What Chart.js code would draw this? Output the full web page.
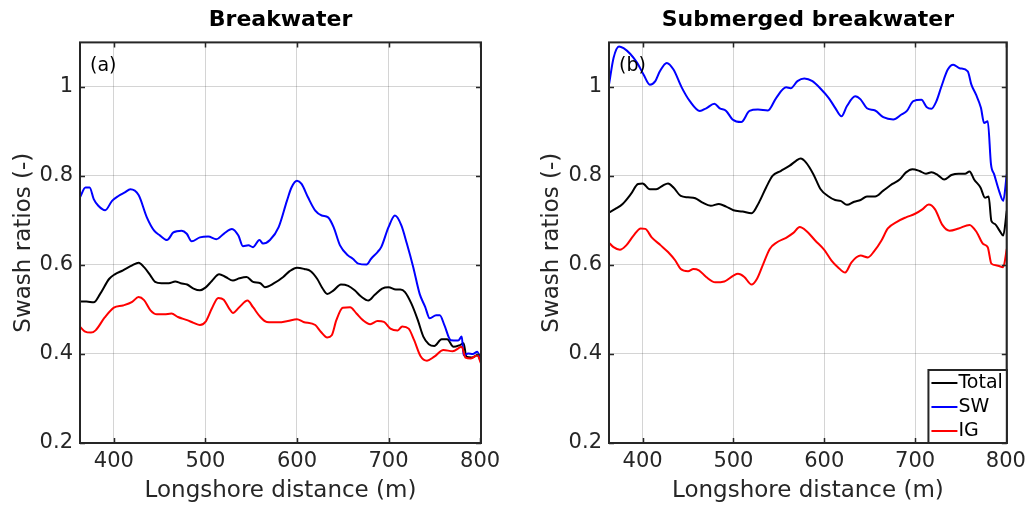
<!DOCTYPE html>
<html>
<head>
<meta charset="utf-8">
<script src="https://cdn.jsdelivr.net/npm/chart.js@4.4.1/dist/chart.umd.min.js"></script>
<style>
html, body { margin: 0; padding: 0; background: #fff; }
#wrap { position: relative; width: 1032px; height: 506px; }
canvas { position: absolute; top: 0; }
</style>
</head>
<body>
<div id="wrap">
  <canvas id="left" width="516" height="506" style="left:0"></canvas>
  <canvas id="right" width="516" height="506" style="left:516px"></canvas>
</div>
<script>
// [longshore distance (m), swash ratio]
const bwTotal = [[363,0.518],[370,0.518],[378,0.516],[385,0.535],[395,0.569],[401,0.579],[410,0.588],[420,0.599],[427,0.605],[433,0.595],[440,0.576],[445,0.562],[452,0.559],[460,0.559],[467,0.563],[473,0.559],[480,0.556],[487,0.547],[494,0.543],[500,0.549],[507,0.564],[515,0.579],[522,0.573],[530,0.565],[537,0.570],[545,0.573],[552,0.562],[560,0.559],[565,0.550],[575,0.559],[585,0.573],[592,0.586],[600,0.594],[608,0.591],[615,0.586],[622,0.569],[628,0.547],[633,0.535],[640,0.543],[648,0.556],[656,0.553],[663,0.543],[670,0.529],[678,0.520],[685,0.533],[693,0.547],[700,0.550],[708,0.545],[713,0.545],[718,0.539],[725,0.513],[732,0.476],[738,0.439],[744,0.422],[750,0.418],[758,0.433],[764,0.433],[771,0.416],[778,0.420],[782,0.424],[785,0.394],[791,0.392],[797,0.397],[801,0.383]];
const bwSW = [[363,0.752],[369,0.774],[373.5,0.774],[378,0.748],[383,0.733],[390.5,0.723],[398,0.744],[405,0.755],[412,0.763],[418,0.770],[427,0.757],[436,0.707],[444,0.677],[450.5,0.666],[458,0.656],[465,0.673],[474,0.677],[479.6,0.670],[485,0.653],[494,0.662],[503,0.664],[512,0.658],[520,0.670],[529,0.681],[536,0.666],[541,0.642],[547,0.644],[552,0.640],[559,0.656],[563,0.648],[570.5,0.656],[580,0.685],[589,0.744],[594,0.774],[600,0.789],[605,0.782],[612,0.752],[620,0.722],[627,0.711],[634,0.707],[640,0.685],[647,0.644],[656,0.621],[661,0.614],[667,0.603],[676,0.601],[681,0.614],[688,0.629],[692,0.640],[700,0.685],[707,0.711],[714,0.689],[720,0.648],[727,0.595],[734,0.535],[740,0.506],[745,0.480],[752,0.487],[756,0.487],[761,0.465],[768,0.431],[776,0.430],[780,0.439],[782,0.397],[787,0.401],[792,0.400],[797,0.405],[801,0.383]];
const bwIG = [[363,0.461],[368,0.451],[375,0.448],[380,0.453],[390,0.482],[400,0.504],[410,0.509],[420,0.517],[427,0.528],[433,0.521],[440,0.498],[447,0.489],[455,0.489],[463,0.491],[470,0.483],[480,0.476],[487,0.470],[494,0.465],[500,0.472],[507,0.502],[514,0.526],[520,0.522],[526,0.502],[530,0.492],[537,0.505],[546,0.520],[552,0.505],[560,0.483],[567,0.472],[580,0.471],[590,0.474],[600,0.478],[607,0.472],[620,0.465],[626,0.450],[633,0.437],[638,0.442],[643,0.476],[650,0.504],[658,0.505],[665,0.491],[672,0.476],[680,0.467],[688,0.474],[695,0.472],[702,0.457],[710,0.453],[715,0.462],[722,0.457],[728,0.431],[735,0.395],[742,0.385],[750,0.394],[760,0.409],[770,0.406],[780,0.416],[784,0.392],[790,0.390],[797,0.397],[801,0.379]];

const subTotal = [[363,0.718],[370,0.726],[378,0.737],[387,0.759],[395,0.782],[400,0.783],[408,0.770],[415,0.770],[422,0.778],[428,0.783],[434,0.774],[442,0.755],[450,0.752],[458,0.750],[466,0.740],[475,0.733],[484,0.737],[492,0.731],[500,0.723],[510,0.720],[520,0.716],[528,0.740],[536,0.774],[543,0.800],[552,0.811],[562,0.823],[569,0.834],[574,0.839],[580,0.830],[588,0.804],[596,0.770],[604,0.755],[612,0.746],[618,0.744],[625,0.735],[633,0.742],[640,0.746],[647,0.754],[656,0.754],[665,0.767],[675,0.782],[683,0.792],[690,0.808],[697,0.815],[705,0.811],[712,0.805],[718,0.808],[725,0.802],[732,0.792],[740,0.802],[748,0.805],[755,0.805],[760,0.810],[765,0.792],[772,0.774],[777,0.751],[781,0.754],[784,0.699],[788,0.692],[793,0.677],[797,0.666],[801,0.722]];
const subSW = [[363,1.005],[368,1.065],[374,1.091],[379,1.087],[386.5,1.074],[394,1.054],[401,1.028],[408,1.005],[414,1.013],[419,1.035],[426.6,1.054],[434,1.039],[443,0.999],[452,0.968],[463,0.946],[470,0.952],[479,0.962],[485,0.952],[492,0.946],[499,0.927],[508.6,0.921],[517.7,0.946],[527,0.949],[538,0.947],[547,0.975],[558,0.999],[563,0.997],[570.5,1.013],[578,1.019],[587,1.013],[596,0.996],[605,0.975],[612,0.953],[619,0.934],[625,0.957],[634,0.979],[640,0.972],[647,0.952],[656,0.947],[665,0.932],[676,0.927],[685,0.938],[691,0.946],[698,0.968],[707,0.971],[712.6,0.955],[718,0.951],[723.5,0.968],[729,1.001],[736,1.039],[742,1.050],[749,1.042],[758,1.035],[762,1.005],[767,0.983],[772.5,0.953],[776,0.919],[780,0.923],[783.6,0.826],[787,0.804],[793,0.763],[797,0.744],[801,0.804]];
const subIG = [[363,0.650],[368,0.640],[375,0.634],[382,0.644],[390,0.666],[398,0.682],[403,0.681],[410,0.662],[420,0.644],[428,0.629],[436,0.610],[442,0.591],[450,0.586],[456,0.591],[462,0.588],[470,0.573],[480,0.561],[490,0.563],[500,0.576],[505,0.580],[512,0.573],[520,0.556],[526,0.569],[533,0.603],[540,0.636],[548,0.651],[558,0.661],[566,0.672],[573,0.685],[580,0.677],[590,0.655],[600,0.634],[608,0.610],[615,0.595],[623,0.583],[630,0.606],[640,0.621],[648,0.617],[655,0.631],[663,0.655],[670,0.682],[680,0.697],[690,0.707],[700,0.715],[708,0.725],[715,0.736],[722,0.725],[730,0.690],[738,0.677],[748,0.682],[760,0.690],[768,0.673],[775,0.647],[780,0.640],[784,0.603],[790,0.599],[797,0.595],[801,0.636]];

const xTicks = [400, 500, 600, 700, 800];
const yTicks = [0.2, 0.4, 0.6, 0.8, 1.0];
const seriesNames = ['Total', 'SW', 'IG'];
const seriesColors = ['#000000', '#0000ff', '#ff0000'];

const FONT = '"DejaVu Sans", sans-serif';
const AXIS_COLOR = '#262626';
const GRID_COLOR = 'rgba(38,38,38,0.2)';

// MATLAB-like box: frame, inward ticks, panel label, optional legend
const boxPlugin = {
  id: 'box',
  afterDatasetsDraw(chart, args, opts) {
    const { ctx, chartArea: a, scales: { x, y } } = chart;
    ctx.save();
    ctx.strokeStyle = AXIS_COLOR;
    ctx.lineWidth = 1.5;
    ctx.beginPath();
    xTicks.forEach(v => {
      const px = Math.round(x.getPixelForValue(v)) + 0.5;
      ctx.moveTo(px, a.bottom); ctx.lineTo(px, a.bottom - 5);
      ctx.moveTo(px, a.top); ctx.lineTo(px, a.top + 5);
    });
    yTicks.forEach(v => {
      const py = Math.round(y.getPixelForValue(v)) + 0.5;
      ctx.moveTo(a.left, py); ctx.lineTo(a.left + 5, py);
      ctx.moveTo(a.right, py); ctx.lineTo(a.right - 5, py);
    });
    ctx.stroke();
    ctx.lineWidth = 2;
    ctx.strokeRect(a.left, a.top, a.right - a.left, a.bottom - a.top);

    ctx.fillStyle = '#000';
    ctx.font = '19px ' + FONT;
    ctx.textBaseline = 'middle';
    ctx.textAlign = 'left';
    ctx.fillText(opts.label, a.left + 10, a.top + 24);

    if (opts.legend) {
      const rowH = 24, lineLen = 26;
      const textW = Math.max(...seriesNames.map(n => ctx.measureText(n).width));
      const w = 3 + lineLen + 1 + textW + 4;
      const h = rowH * seriesNames.length + 1;
      const lx = a.right - w, ly = a.bottom - h;
      ctx.fillStyle = '#fff';
      ctx.fillRect(lx, ly, w, h);
      ctx.strokeStyle = AXIS_COLOR;
      ctx.lineWidth = 2;
      ctx.strokeRect(lx, ly, w, h);
      seriesNames.forEach((name, i) => {
        const cy = ly + rowH * i + rowH / 2 + 1;
        ctx.strokeStyle = seriesColors[i];
        ctx.lineWidth = 2;
        ctx.beginPath();
        ctx.moveTo(lx + 3, cy); ctx.lineTo(lx + 3 + lineLen, cy);
        ctx.stroke();
        ctx.fillStyle = '#000';
        ctx.fillText(name, lx + 4 + lineLen, cy);
      });
    }
    ctx.restore();
  }
};

function makeChart(id, title, label, series, yWidth, yTitlePad, rightPad, legend) {
  const datasets = series.map((pts, i) => ({
    label: seriesNames[i],
    data: pts.map(p => ({ x: p[0], y: p[1] })),
    borderColor: seriesColors[i],
    backgroundColor: seriesColors[i],
    borderWidth: 2,
    pointRadius: 0,
    fill: false,
    cubicInterpolationMode: 'monotone',
    order: series.length - i
  }));

  return new Chart(document.getElementById(id), {
    type: 'line',
    data: { datasets: datasets },
    options: {
      responsive: false,
      animation: false,
      devicePixelRatio: 1,
      layout: { padding: { left: 0, right: rightPad, top: 0, bottom: 0 } },
      scales: {
        x: {
          type: 'linear',
          min: 363,
          max: 801,
          afterBuildTicks: s => { s.ticks = xTicks.map(v => ({ value: v })); },
          afterFit: s => { s.height = 63; },
          ticks: {
            autoSkip: false,
            maxRotation: 0,
            padding: 6,
            color: AXIS_COLOR,
            font: { family: FONT, size: 21 },
            callback: v => String(v)
          },
          grid: { color: GRID_COLOR, drawTicks: false, lineWidth: 1 },
          border: { display: false },
          title: {
            display: true,
            text: 'Longshore distance (m)',
            color: AXIS_COLOR,
            font: { family: FONT, size: 23 },
            padding: { top: 0, bottom: 1 }
          }
        },
        y: {
          min: 0.2,
          max: 1.1,
          afterBuildTicks: s => { s.ticks = yTicks.map(v => ({ value: v })); },
          afterFit: s => { s.width = yWidth; },
          ticks: {
            padding: 7,
            color: AXIS_COLOR,
            font: { family: FONT, size: 21 },
            callback: v => String(Math.round(v * 10) / 10)
          },
          grid: { color: GRID_COLOR, drawTicks: false, lineWidth: 1 },
          border: { display: false },
          title: {
            display: true,
            text: 'Swash ratios (-)',
            color: AXIS_COLOR,
            font: { family: FONT, size: 23 },
            padding: { top: yTitlePad, bottom: 0 }
          }
        }
      },
      plugins: {
        legend: { display: false },
        tooltip: { enabled: false },
        title: {
          display: true,
          text: title,
          fullSize: false,
          color: '#000',
          font: { family: FONT, size: 22, weight: 'bold' },
          padding: { top: 7, bottom: 9 }
        },
        box: { label: label, legend: legend }
      }
    },
    plugins: [boxPlugin]
  });
}

makeChart('left', 'Breakwater', '(a)', [bwTotal, bwSW, bwIG], 80, 10, 35, false);
makeChart('right', 'Submerged breakwater', '(b)', [subTotal, subSW, subIG], 93, 22, 23, true);
</script>
</body>
</html>
